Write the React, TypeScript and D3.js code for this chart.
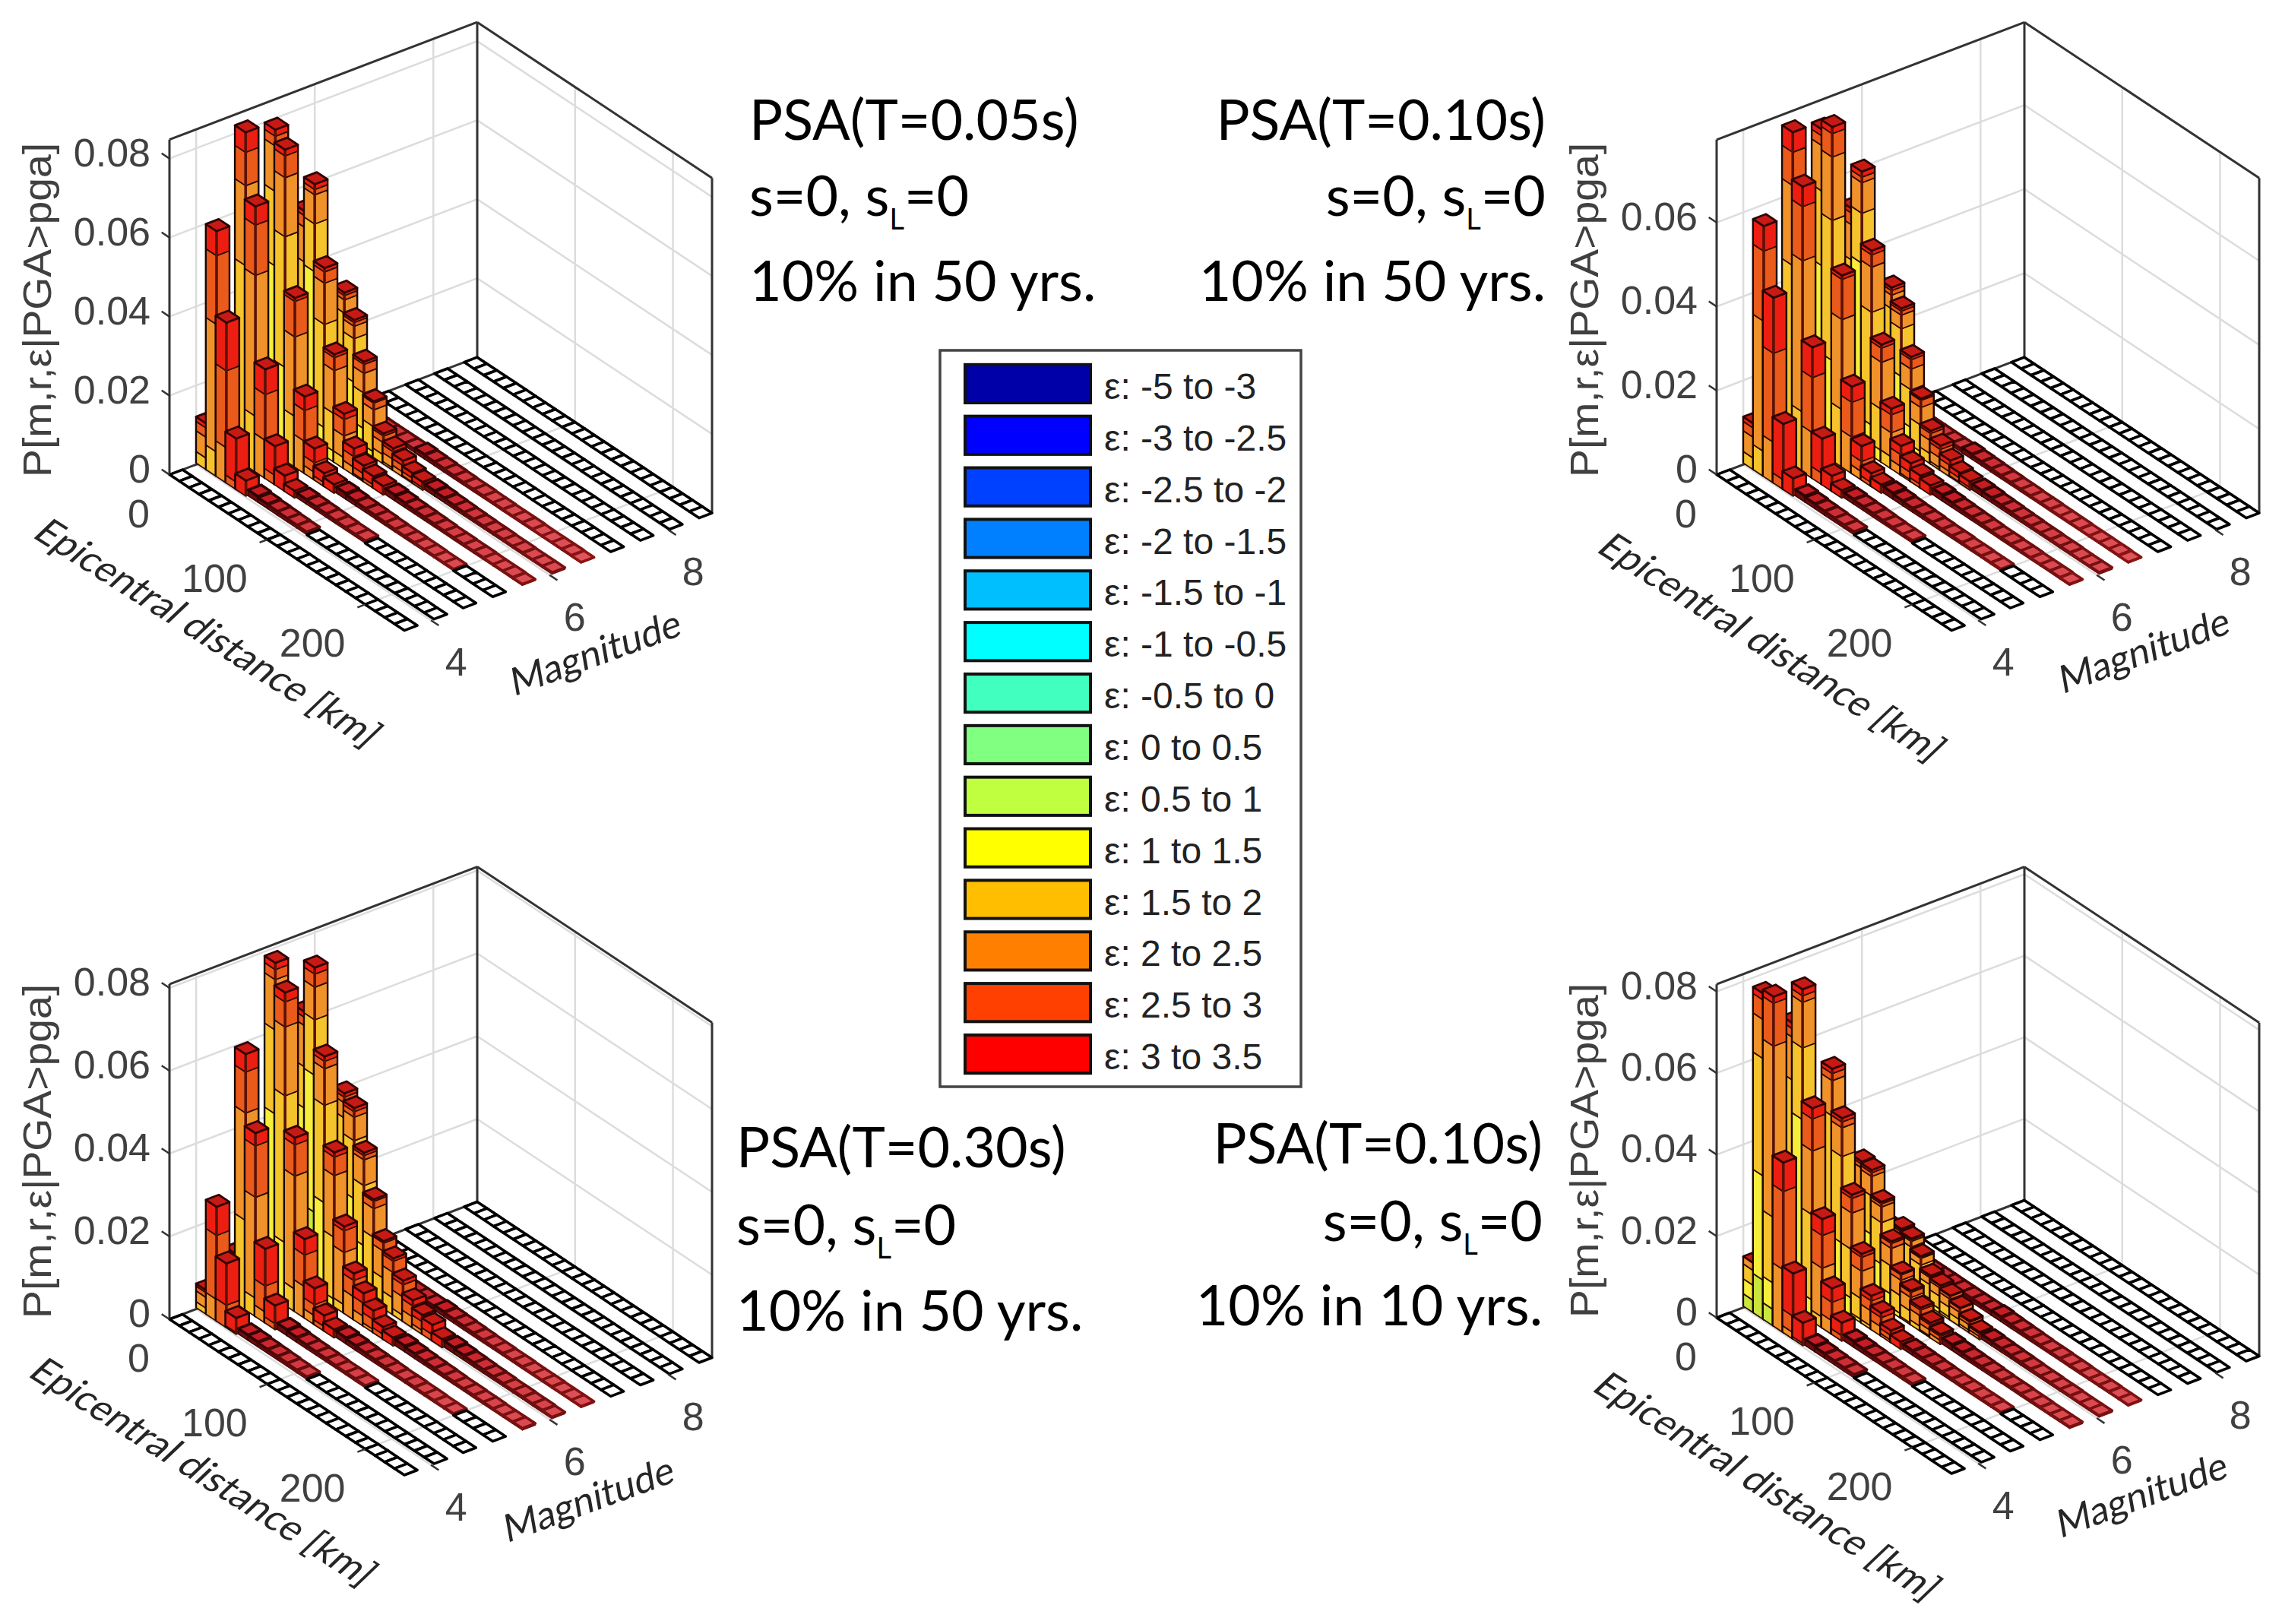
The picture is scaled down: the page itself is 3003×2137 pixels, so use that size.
import { useEffect, useRef } from "react";
import * as d3 from "d3";

// epsilon legend
const legendLabels = [
  "ε: -5 to -3", "ε: -3 to -2.5", "ε: -2.5 to -2", "ε: -2 to -1.5", "ε: -1.5 to -1", "ε: -1 to -0.5", "ε: -0.5 to 0",
  "ε: 0 to 0.5", "ε: 0.5 to 1", "ε: 1 to 1.5", "ε: 1.5 to 2", "ε: 2 to 2.5", "ε: 2.5 to 3", "ε: 3 to 3.5",
];
const legendColors = [
  "#0000a8", "#0000ff", "#0040ff", "#0080ff", "#00bfff", "#00ffff", "#40ffbf",
  "#80ff80", "#bfff40", "#ffff00", "#ffbf00", "#ff8000", "#ff4000", "#ff0000",
];
// same epsilon bins 0.5..3.5 as they look on the bars
const barColors = ["#c9e63c", "#f5ee3a", "#f5c32c", "#f0922a", "#ea5a1a", "#ec1e12"];

const magnitudeBins = [3.66, 4.16, 4.65, 5.15, 5.65, 6.15, 6.64, 7.14, 7.64, 8.13, 8.63];
const distanceBins = [5, 15, 25, 35, 45, 55, 65, 75, 85, 95, 105, 115, 125, 135, 145, 155, 165, 175, 185, 195, 205, 215, 225, 235];
const zTicks = [0, 0.02, 0.04, 0.06, 0.08];
const distanceTicks = [0, 100, 200];
const magnitudeTicks = [4, 6, 8];

// last distance bin with any contribution, per magnitude row
const tailEnds = [-1, 10, 13, 19, 23, 23, 23, -1, -1, -1, -1];
const tailHeights = [
  0.0012, 0.001, 0.0009, 0.0008, 0.0007, 0.0006, 0.0006, 0.0005, 0.0005, 0.0004, 0.0004, 0.0004,
  0.0003, 0.0003, 0.0003, 0.0003, 0.0002, 0.0002, 0.0002, 0.0002, 0.0002, 0.0002, 0.0002, 0.0002,
];

// bar heights per magnitude row, from the nearest distance bin outwards
const psa005Heights = [
  [],
  [0.0117, 0.0621, 0.0406, 0.0129, 0.0039, 0.0015],
  [0.005, 0.0843, 0.0672, 0.0276, 0.0098, 0.004, 0.0018],
  [0.006, 0.0821, 0.0787, 0.0428, 0.0195, 0.008, 0.0034, 0.0022, 0.0015],
  [0.03, 0.0586, 0.0671, 0.0475, 0.0273, 0.0139, 0.0068, 0.0041, 0.003, 0.0022, 0.0015],
  [0.01, 0.03, 0.0368, 0.0315, 0.0226, 0.0142, 0.0077, 0.0056, 0.0041, 0.0026, 0.002, 0.0014],
  [0.0008, 0.0008, 0.0008, 0.0008, 0.0008, 0.0008, 0.0008],
];
const psa010Heights = [
  [],
  [0.011, 0.0596, 0.0441, 0.0156, 0.0042, 0.0015],
  [0.005, 0.0793, 0.0679, 0.0312, 0.011, 0.0037, 0.0018],
  [0.006, 0.0772, 0.0794, 0.0456, 0.0207, 0.0081, 0.0032, 0.002, 0.0015],
  [0.03, 0.0557, 0.0661, 0.0488, 0.028, 0.0143, 0.007, 0.0044, 0.003, 0.0022, 0.0015],
  [0.01, 0.03, 0.0358, 0.0324, 0.0224, 0.014, 0.0079, 0.0059, 0.0039, 0.0025, 0.002, 0.0014],
  [0.0008, 0.0008, 0.0008, 0.0008, 0.0008, 0.0008, 0.0008],
];
const psa030Heights = [
  [],
  [0.0058, 0.0276, 0.0155, 0.0039, 0.0013],
  [0.012, 0.0618, 0.0443, 0.0179, 0.0058, 0.0015],
  [0.02, 0.0811, 0.0755, 0.042, 0.0191, 0.0088, 0.0038, 0.002, 0.0015],
  [0.04, 0.0665, 0.0788, 0.0589, 0.0373, 0.021, 0.0112, 0.008, 0.0054, 0.003, 0.002, 0.0015],
  [0.015, 0.035, 0.0457, 0.0437, 0.0345, 0.0248, 0.0163, 0.0137, 0.0099, 0.0067, 0.0047, 0.0039, 0.002, 0.0015],
  [0.001, 0.001, 0.001, 0.001, 0.001, 0.001, 0.001, 0.001, 0.001],
];
const psa010Yr10Heights = [
  [],
  [0.0122, 0.0799, 0.0808, 0.0417, 0.0161, 0.0056, 0.0015],
  [0.0644, 0.07, 0.0799, 0.0523, 0.0267, 0.0113, 0.0045, 0.0015],
  [0.03, 0.045, 0.0576, 0.0471, 0.0299, 0.017, 0.0083, 0.0057, 0.003, 0.0018],
  [0.01, 0.025, 0.0321, 0.0316, 0.0254, 0.0173, 0.011, 0.0084, 0.0058, 0.0037, 0.0025, 0.0015],
  [0.004, 0.01, 0.013, 0.0144, 0.0136, 0.0109, 0.0077, 0.0069, 0.006, 0.0046, 0.003, 0.0018],
  [0.001, 0.001, 0.001, 0.001, 0.001, 0.001, 0.001, 0.001, 0.001, 0.001],
];

// % of a bar in each epsilon bin (0.5-1 ... 3-3.5), same rows and bins as above
const epsilonShares = [
  [],
  [[0, 0, 25, 45, 20, 10], [0, 0, 10, 52, 28, 10], [0, 0, 0, 22, 48, 30], [0, 0, 0, 0, 15, 85]],
  [[0, 10, 30, 40, 15, 5], [0, 0, 60, 24, 10, 6], [0, 0, 21, 53, 19, 7], [0, 0, 0, 35, 42, 23], [0, 0, 0, 0, 25, 75]],
  [
    [5, 40, 30, 20, 3, 2], [3, 55, 23, 14, 3, 2], [0, 30, 42, 19, 7, 2], [0, 0, 30, 47, 21, 2], [0, 0, 0, 42, 40, 18],
    [0, 0, 0, 25, 30, 45], [0, 0, 0, 0, 30, 70],
  ],
  [
    [15, 45, 20, 15, 3, 2], [13, 50, 15, 15, 5, 2], [22, 45, 18, 11, 2, 2], [0, 15, 55, 22, 6, 2], [0, 10, 35, 40, 12, 3],
    [0, 0, 20, 40, 30, 10], [0, 0, 0, 30, 40, 30], [0, 0, 0, 10, 40, 50], [0, 0, 0, 0, 30, 70],
  ],
  [
    [30, 40, 20, 7, 2, 1], [30, 40, 20, 7, 2, 1], [25, 30, 31, 9, 3, 2], [10, 40, 35, 10, 3, 2], [0, 25, 40, 22, 10, 3],
    [0, 10, 45, 30, 12, 3], [0, 0, 30, 40, 22, 8], [0, 0, 10, 40, 35, 15], [0, 0, 0, 30, 40, 30], [0, 0, 0, 10, 40, 50],
    [0, 0, 0, 0, 30, 70],
  ],
];
const epsilonSharesT030 = [
  [],
  [[0, 0, 25, 45, 20, 10], [0, 0, 0, 19, 56, 25], [0, 0, 0, 0, 35, 65], [0, 0, 0, 0, 10, 90]],
  [[0, 10, 30, 40, 15, 5], [0, 0, 35, 42, 16, 7], [0, 0, 10, 55, 28, 7], [0, 0, 0, 15, 35, 50], [0, 0, 0, 0, 25, 75]],
  [
    [5, 40, 30, 20, 3, 2], [10, 45, 25, 15, 3, 2], [0, 20, 47, 22, 8, 3], [0, 0, 13, 65, 18, 4], [0, 0, 0, 40, 40, 20],
    [0, 0, 0, 25, 30, 45], [0, 0, 0, 0, 30, 70],
  ],
  [
    [15, 45, 20, 15, 3, 2], [15, 50, 15, 15, 3, 2], [25, 42, 17, 10, 4, 2], [5, 35, 40, 15, 3, 2], [0, 5, 40, 40, 12, 3],
    [0, 0, 10, 60, 25, 5], [0, 0, 0, 50, 35, 15], [0, 0, 0, 30, 40, 30], [0, 0, 0, 15, 45, 40], [0, 0, 0, 0, 40, 60],
  ],
  [
    [30, 40, 20, 7, 2, 1], [30, 40, 20, 7, 2, 1], [20, 45, 22, 8, 3, 2], [5, 45, 32, 13, 3, 2], [0, 35, 42, 18, 3, 2],
    [0, 15, 48, 28, 7, 2], [0, 10, 35, 40, 12, 3], [0, 0, 30, 45, 20, 5], [0, 0, 15, 45, 30, 10], [0, 0, 0, 40, 40, 20],
    [0, 0, 0, 20, 45, 35], [0, 0, 0, 0, 40, 60],
  ],
];
const epsilonSharesYr10 = [
  [],
  [
    [25, 30, 30, 15, 0, 0], [12, 32, 36, 12, 6, 2], [5, 8, 20, 52, 13, 2], [0, 0, 0, 37, 46, 17], [0, 0, 0, 10, 25, 65],
    [0, 0, 0, 0, 10, 90],
  ],
  [
    [10, 30, 40, 15, 3, 2], [10, 40, 30, 15, 3, 2], [10, 50, 22, 14, 2, 2], [0, 10, 40, 30, 15, 5], [0, 0, 10, 45, 30, 15],
    [0, 0, 0, 30, 40, 30], [0, 0, 0, 0, 30, 70],
  ],
  [
    [15, 40, 30, 10, 3, 2], [10, 35, 35, 15, 3, 2], [5, 30, 45, 15, 3, 2], [10, 25, 45, 15, 3, 2], [0, 15, 40, 30, 12, 3],
    [0, 5, 30, 40, 20, 5], [0, 0, 10, 45, 30, 15], [0, 0, 0, 40, 40, 20], [0, 0, 0, 20, 40, 40],
  ],
  [
    [30, 40, 20, 7, 2, 1], [15, 40, 30, 10, 3, 2], [10, 40, 30, 15, 3, 2], [10, 40, 30, 15, 3, 2], [5, 35, 40, 15, 3, 2],
    [0, 25, 40, 25, 7, 3], [0, 10, 40, 35, 12, 3], [0, 5, 35, 40, 15, 5], [0, 0, 20, 45, 25, 10], [0, 0, 10, 40, 35, 15],
    [0, 0, 0, 40, 40, 20],
  ],
  [
    [30, 40, 20, 7, 2, 1], [30, 40, 20, 7, 2, 1], [20, 40, 25, 10, 3, 2], [10, 40, 35, 10, 3, 2], [10, 40, 35, 10, 3, 2],
    [5, 35, 40, 15, 3, 2], [0, 25, 45, 22, 6, 2], [0, 15, 45, 30, 8, 2], [0, 10, 40, 35, 12, 3], [0, 0, 35, 40, 20, 5],
    [0, 0, 20, 45, 25, 10], [0, 0, 0, 40, 40, 20],
  ],
];

const panels = [
  {
    heights: psa005Heights, shares: epsilonShares, left: 223, floor: 624.6, zUnit: 5200, zMax: 0.0848,
    xlabel: [261, 845], ylabelY: 408, maglabel: [787, 876],
    title: ["PSA(T=0.05s)", "10% in 50 yrs."], block: { x: 986, anchor: "start", y: [184, 284, 396] },
  },
  {
    heights: psa010Heights, shares: epsilonShares, left: 2259, floor: 624.6, zUnit: 5530, zMax: 0.0797,
    xlabel: [2319, 864], ylabelY: 408, maglabel: [2825, 873],
    title: ["PSA(T=0.10s)", "10% in 50 yrs."], block: { x: 2034, anchor: "end", y: [184, 284, 396] },
  },
  {
    heights: psa030Heights, shares: epsilonSharesT030, left: 223, floor: 1736, zUnit: 5450, zMax: 0.0809,
    xlabel: [255, 1949], ylabelY: 1515, maglabel: [778, 1990],
    title: ["PSA(T=0.30s)", "10% in 50 yrs."], block: { x: 969, anchor: "start", y: [1536, 1638, 1751] },
  },
  {
    heights: psa010Yr10Heights, shares: epsilonSharesYr10, left: 2259, floor: 1734, zUnit: 5365, zMax: 0.0818,
    xlabel: [2313, 1968], ylabelY: 1514, maglabel: [2822, 1984],
    title: ["PSA(T=0.10s)", "10% in 10 yrs."], block: { x: 2030, anchor: "end", y: [1531, 1633, 1744] },
  },
];

const WIDTH = 3003;
const HEIGHT = 2137;
const DIST_DOMAIN: [number, number] = [0, 240];
const MAG_DOMAIN: [number, number] = [3.55, 8.74];
const D_VEC = [309, 205];
const M_VEC = [405, -154.5];
const DIST_BIN = 10;
const MAG_BIN = 0.218;
const AXIS_FONT = "Liberation Sans";
const TEXT_FONT = "Lato";

function drawPanel(svg: any, p: any) {
  const g = svg.append("g");
  const dFrac = d3.scaleLinear().domain(DIST_DOMAIN).range([0, 1]);
  const mFrac = d3.scaleLinear().domain(MAG_DOMAIN).range([0, 1]);
  const zPx = d3.scaleLinear().domain([0, 1]).range([0, p.zUnit]);

  const pt = (d: number, m: number, z: number): [number, number] => [
    p.left + dFrac(d) * D_VEC[0] + mFrac(m) * M_VEC[0],
    p.floor + dFrac(d) * D_VEC[1] + mFrac(m) * M_VEC[1] - zPx(z),
  ];
  // tall bars sit a little left of the floor cells in the original
  const pb = (d: number, m: number, z: number): [number, number] => {
    const a = pt(d, m, z);
    return [a[0] - 3.5, a[1]];
  };
  const line = d3.line();
  const seg = (a: [number, number], b: [number, number], stroke: string, w: number) =>
    g.append("line").attr("x1", a[0]).attr("y1", a[1]).attr("x2", b[0]).attr("y2", b[1])
      .attr("stroke", stroke).attr("stroke-width", w);
  const poly = (pts: [number, number][], fill: string, stroke: string, w: number) =>
    g.append("path").attr("d", line(pts) + "Z").attr("fill", fill).attr("stroke", stroke)
      .attr("stroke-width", w).attr("stroke-linejoin", "round");

  const [d0, d1] = DIST_DOMAIN;
  const [m0, m1] = MAG_DOMAIN;
  const gridCol = "#dcdcdc";

  // walls and floor grid
  zTicks.filter(z => z > 0 && z <= p.zMax).forEach(z => {
    seg(pt(d0, m0, z), pt(d0, m1, z), gridCol, 2.5);
    seg(pt(d0, m1, z), pt(d1, m1, z), gridCol, 2.5);
  });
  magnitudeTicks.forEach(m => {
    seg(pt(d0, m, 0), pt(d0, m, p.zMax), gridCol, 2.5);
    seg(pt(d0, m, 0), pt(d1, m, 0), gridCol, 2.5);
  });
  distanceTicks.filter(d => d > 0).forEach(d => {
    seg(pt(d, m1, 0), pt(d, m1, p.zMax), gridCol, 2.5);
    seg(pt(d, m0, 0), pt(d, m1, 0), gridCol, 2.5);
  });

  // box
  const boxCol = "#333333";
  seg(pt(d0, m0, 0), pt(d0, m0, p.zMax), boxCol, 3);
  seg(pt(d0, m0, p.zMax), pt(d0, m1, p.zMax), boxCol, 3);
  seg(pt(d0, m1, 0), pt(d0, m1, p.zMax), boxCol, 3);
  seg(pt(d0, m1, p.zMax), pt(d1, m1, p.zMax), boxCol, 3);
  seg(pt(d1, m1, 0), pt(d1, m1, p.zMax), boxCol, 3);
  seg(pt(d0, m0, 0), pt(d0, m1, 0), boxCol, 3);
  seg(pt(d0, m1, 0), pt(d1, m1, 0), boxCol, 3);

  const tailFill = d3.scaleLinear<string>().domain([0.0002, 0.0012]).range(["#e0555c", "#c61c24"]).clamp(true);
  const tailEdge = d3.scaleLinear<string>().domain([0.0002, 0.0012]).range(["#8a1414", "#300303"]).clamp(true);

  // bars, far corner first
  for (let i = magnitudeBins.length - 1; i >= 0; i--) {
    const mA = magnitudeBins[i] - MAG_BIN / 2;
    const mB = magnitudeBins[i] + MAG_BIN / 2;
    const head: number[] = p.heights[i] ?? [];
    distanceBins.forEach((dc, j) => {
      const dA = dc - DIST_BIN / 2;
      const dB = dc + DIST_BIN / 2;
      const h = head[j] ?? (j <= tailEnds[i] ? tailHeights[j - head.length] : 0);
      const top = (z: number): [number, number][] => [pt(dA, mA, z), pt(dB, mA, z), pt(dB, mB, z), pt(dA, mB, z)];

      if (h === 0) {
        poly(top(0), "#ffffff", "#000000", 3.6);
        return;
      }
      if (h < 0.0016) {
        poly([pt(dA, mA, h), pt(dB, mA, h), pt(dB, mA, 0), pt(dA, mA, 0)], "#6c0c0c", tailEdge(h), 1.5);
        poly([pt(dB, mA, h), pt(dB, mB, h), pt(dB, mB, 0), pt(dB, mA, 0)], "#8a1010", tailEdge(h), 1.5);
        poly(top(h), tailFill(h), tailEdge(h), 3.6);
        return;
      }

      const dL = dA - 0.5;
      const dR = dB + 0.5;
      const shares: number[] = p.shares[i]?.[j] ?? [0, 0, 0, 0, 0, 100];
      let z0 = 0;
      shares.forEach((s, k) => {
        if (s === 0) return;
        const z1 = z0 + (h * s) / 100;
        poly([pb(dL, mA, z1), pb(dR, mA, z1), pb(dR, mA, z0), pb(dL, mA, z0)], barColors[k], "#2b0a00", 1.7);
        poly([pb(dR, mA, z1), pb(dR, mB, z1), pb(dR, mB, z0), pb(dR, mA, z0)], barColors[k], "#2b0a00", 1.7);
        z0 = z1;
      });
      seg(pb(dL, mA, 0), pb(dL, mA, h), "#1a0500", 2.4);
      seg(pb(dR, mB, 0), pb(dR, mB, h), "#1a0500", 2.4);
      seg(pb(dR, mA, 0), pb(dR, mA, h), "#5a1206", 3.6);
      poly([pb(dL, mA, h), pb(dR, mA, h), pb(dR, mB, h), pb(dL, mB, h)], "#c81a14", "#300303", 2.8);
    });
  }

  // ticks and labels
  const labelCol = "#404040";
  const label = (x: number, y: number, txt: string, anchor: string) =>
    g.append("text").attr("x", x).attr("y", y).attr("text-anchor", anchor)
      .attr("font-family", AXIS_FONT).attr("font-size", 52).attr("fill", labelCol).text(txt);

  zTicks.filter(z => z <= p.zMax).forEach(z => {
    const a = pt(d0, m0, z);
    seg(a, pt(-8, m0, z), boxCol, 2.5);
    label(a[0] - 25, a[1] + 10, z === 0 ? "0" : z.toFixed(2), "end");
  });
  distanceTicks.forEach(d => {
    const a = pt(d, m0, 0);
    if (d > 0) seg(a, pt(d, m0 - 0.13, 0), boxCol, 2.5);
    label(a[0] - 26, a[1] + 69, String(d), "end");
  });
  magnitudeTicks.forEach(m => {
    const a = pt(d1, m, 0);
    seg(a, pt(d1 + 8, m, 0), boxCol, 2.5);
    label(a[0] + 33, a[1] + 73, String(m), "middle");
  });

  g.append("text")
    .attr("transform", `translate(${p.left - 156},${p.ylabelY}) rotate(-90)`)
    .attr("text-anchor", "middle").attr("font-family", AXIS_FONT).attr("font-size", 52)
    .attr("textLength", 440).attr("lengthAdjust", "spacingAndGlyphs")
    .attr("fill", labelCol).text("P[m,r,ε|PGA>pga]");

  g.append("text")
    .attr("transform", `translate(${p.xlabel[0]},${p.xlabel[1]}) rotate(32.3) skewX(-14)`)
    .attr("text-anchor", "middle").attr("font-family", TEXT_FONT).attr("font-size", 50)
    .attr("fill", "#262626").text("Epicentral distance [km]");

  g.append("text")
    .attr("transform", `translate(${p.maglabel[0]},${p.maglabel[1]}) rotate(-20) skewX(-10)`)
    .attr("text-anchor", "middle").attr("font-family", TEXT_FONT).attr("font-size", 50)
    .attr("fill", "#262626").text("Magnitude");

  // caption block next to the panel
  const caption = (y: number) =>
    svg.append("text").attr("x", p.block.x).attr("y", y).attr("text-anchor", p.block.anchor)
      .attr("font-family", TEXT_FONT).attr("font-size", 73.5).attr("fill", "#000000");
  caption(p.block.y[0]).text(p.title[0]);
  const mid = caption(p.block.y[1]);
  mid.append("tspan").text("s=0, s");
  mid.append("tspan").attr("font-size", 38).attr("dy", 18).text("L");
  mid.append("tspan").attr("dy", -18).text("=0");
  caption(p.block.y[2]).text(p.title[1]);
}

function drawLegend(svg: any) {
  const g = svg.append("g");
  g.append("rect").attr("x", 1237).attr("y", 461).attr("width", 475).attr("height", 969)
    .attr("fill", "#ffffff").attr("stroke", "#444444").attr("stroke-width", 3.5);
  const y = d3.scaleBand<string>().domain(legendLabels).range([471, 1421]).paddingInner(0.26).paddingOuter(0.13);
  legendLabels.forEach((lab, i) => {
    g.append("rect").attr("x", 1270).attr("y", y(lab)!).attr("width", 165).attr("height", y.bandwidth())
      .attr("fill", legendColors[i]).attr("stroke", "#111111").attr("stroke-width", 4);
    g.append("text").attr("x", 1453).attr("y", y(lab)! + y.bandwidth() / 2 + 20)
      .attr("font-family", AXIS_FONT).attr("font-size", 48).attr("fill", "#222222").text(lab);
  });
}

export default function App() {
  const svgRef = useRef<SVGSVGElement | null>(null);

  useEffect(() => {
    if (!svgRef.current) return;
    const svg = d3.select(svgRef.current);
    svg.selectAll("*").remove();
    panels.forEach(p => drawPanel(svg, p));
    drawLegend(svg);
  }, []);

  return (
    <svg ref={svgRef} width={WIDTH} height={HEIGHT} style={{ position: "absolute", left: 0, top: 0, background: "#fff" }} />
  );
}
